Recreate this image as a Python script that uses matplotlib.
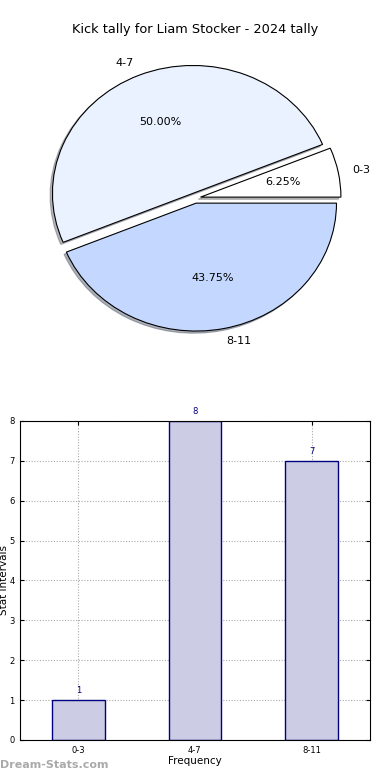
import matplotlib
matplotlib.use('Agg')
import matplotlib.pyplot as plt

# data
title = 'Kick tally for Liam Stocker - 2024 tally'
intervals = ['0-3', '4-7', '8-11']
counts = [1, 8, 7]
pie_colors = ['#ffffff', '#eaf1ff', '#c4d8ff']
explode = [0.04, 0.04, 0.04]

fig = plt.figure(figsize=(3.9, 7.8), dpi=100)

# ---- pie ----
ax1 = fig.add_axes([0.05, 0.541, 0.90, 0.41])
wedges, texts, autotexts = ax1.pie(counts, labels=intervals, colors=pie_colors,
                                   explode=explode, autopct='%1.2f%%',
                                   shadow={'ox': -0.012, 'oy': -0.012, 'shade': 0.55},
                                   startangle=0, counterclock=True,
                                   labeldistance=1.1, pctdistance=0.6,
                                   wedgeprops={'edgecolor': 'black', 'linewidth': 0.8},
                                   textprops={'fontsize': 8})
ax1.set_aspect('auto')
ax1.set_xlim(-1.25, 1.25)
ax1.set_ylim(-1.25, 1.25)
fig.text(0.5, 0.962, title, ha='center', va='center', fontsize=9.3)

# ---- bars ----
ax2 = fig.add_axes([0.0513, 0.0513, 0.897, 0.409])
x = list(range(len(intervals)))
ax2.bar(x, counts, width=0.45, color='#ccccE4', edgecolor='navy', linewidth=1, zorder=2)
for xi, c in zip(x, counts):
    ax2.text(xi, c + 0.12, str(c), ha='center', va='bottom', fontsize=6, color='navy')
ax2.set_xlim(-0.5, 2.5)
ax2.set_ylim(0, 8)
ax2.set_xticks(x)
ax2.set_xticklabels(intervals)
ax2.set_yticks(range(0, 9))
ax2.tick_params(direction='in', top=True, right=True, labelsize=6, length=3, pad=4)
ax2.grid(True, linestyle=(0, (1, 1.5)), color='#aaaaaa', linewidth=0.8, zorder=0)
ax2.set_axisbelow(True)
ax2.set_xlabel('Frequency', fontsize=7.5, labelpad=1)
ax2.set_ylabel('Stat Intervals', fontsize=7.5, labelpad=0)

fig.text(0.0, 0.013, 'Dream-Stats.com', fontsize=8, color='#aaaaaa', fontweight='bold', ha='left', va='bottom')

plt.savefig('out.png', dpi=100)
